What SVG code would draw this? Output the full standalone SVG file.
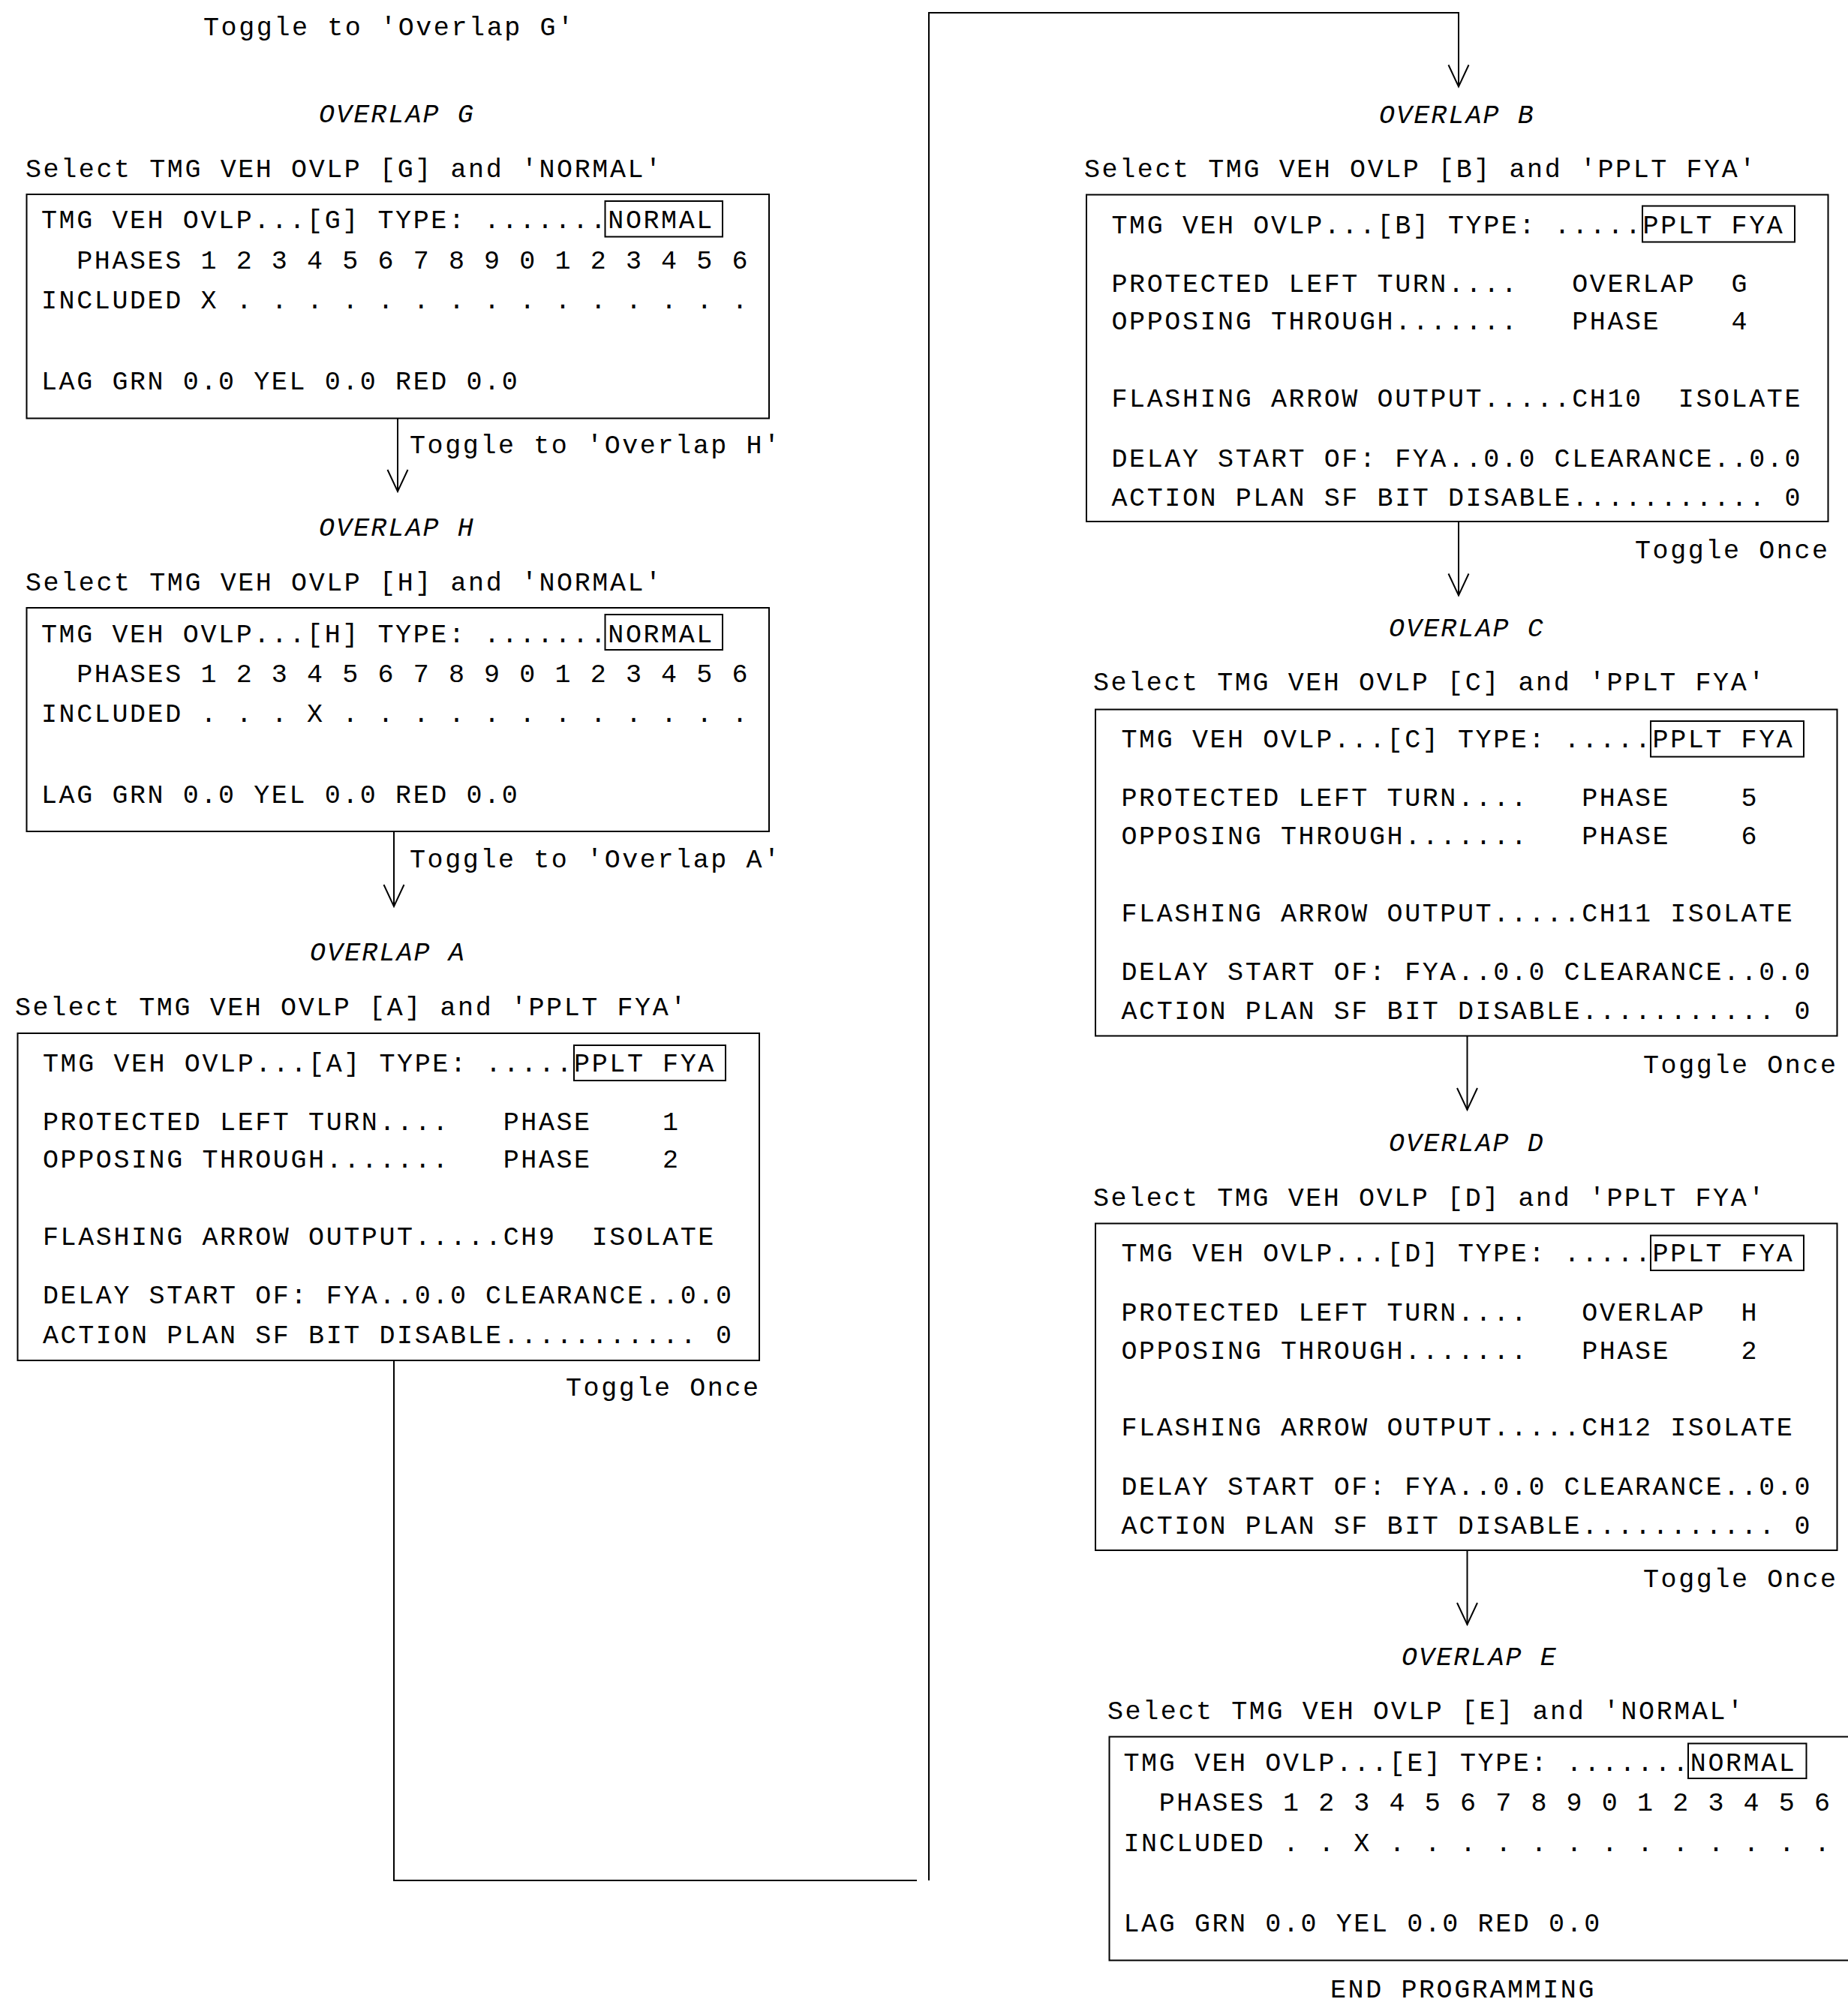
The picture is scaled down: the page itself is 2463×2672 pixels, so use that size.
<svg xmlns="http://www.w3.org/2000/svg" width="2463" height="2672" viewBox="0 0 2463 2672">
<defs>
<style>
.t{font-family:"Liberation Mono","DejaVu Sans Mono",monospace;font-size:35px;letter-spacing:2.6px;white-space:pre;fill:#000}
.h{font-family:"Liberation Mono","DejaVu Sans Mono",monospace;font-size:35px;letter-spacing:2.1px;font-style:italic;white-space:pre;fill:#000}
.box{fill:none;stroke:#000;stroke-width:2}
.tb{fill:none;stroke:#000;stroke-width:2}
.c{fill:none;stroke:#000;stroke-width:2}
</style>
<marker id="arr" markerUnits="userSpaceOnUse" viewBox="-35 -20 40 40" refX="0" refY="0" markerWidth="40" markerHeight="40" orient="auto">
<path d="M-29,-13.5 L0,0 L-29,13.5" fill="none" stroke="#000" stroke-width="2"/>
</marker>
</defs>
<rect width="2463" height="2672" fill="#fff"/>

<text id="start-label" class="t" x="271" y="47">Toggle to 'Overlap G'</text>

<g id="node-G">
<text class="h" x="425" y="163">OVERLAP G</text>
<text class="t" x="34" y="236">Select TMG VEH OVLP [G] and 'NORMAL'</text>
<rect class="box" x="35.5" y="259" width="989.5" height="298.5"/>
<rect class="tb" x="806.5" y="268" width="156.5" height="47.5"/>
<text class="t" x="55" y="304">TMG VEH OVLP...[G] TYPE: .......NORMAL</text>
<text class="t" x="55" y="358">  PHASES 1 2 3 4 5 6 7 8 9 0 1 2 3 4 5 6</text>
<text class="t" x="55" y="411">INCLUDED X . . . . . . . . . . . . . . .</text>
<text class="t" x="55" y="519">LAG GRN 0.0 YEL 0.0 RED 0.0</text>
</g>

<g id="node-H">
<text class="h" x="425" y="714">OVERLAP H</text>
<text class="t" x="34" y="787">Select TMG VEH OVLP [H] and 'NORMAL'</text>
<rect class="box" x="35.5" y="810" width="989.5" height="298"/>
<rect class="tb" x="806.5" y="819" width="156.5" height="47"/>
<text class="t" x="55" y="856">TMG VEH OVLP...[H] TYPE: .......NORMAL</text>
<text class="t" x="55" y="909">  PHASES 1 2 3 4 5 6 7 8 9 0 1 2 3 4 5 6</text>
<text class="t" x="55" y="962">INCLUDED . . . X . . . . . . . . . . . .</text>
<text class="t" x="55" y="1070">LAG GRN 0.0 YEL 0.0 RED 0.0</text>
</g>

<g id="node-A">
<text class="h" x="413" y="1280">OVERLAP A</text>
<text class="t" x="20" y="1353">Select TMG VEH OVLP [A] and 'PPLT FYA'</text>
<rect class="box" x="23.5" y="1377" width="988.5" height="436"/>
<rect class="tb" x="765" y="1393" width="202" height="47"/>
<text class="t" x="57" y="1428">TMG VEH OVLP...[A] TYPE: .....PPLT FYA</text>
<text class="t" x="57" y="1506">PROTECTED LEFT TURN....   PHASE    1</text>
<text class="t" x="57" y="1556">OPPOSING THROUGH.......   PHASE    2</text>
<text class="t" x="57" y="1659">FLASHING ARROW OUTPUT.....CH9  ISOLATE</text>
<text class="t" x="57" y="1737">DELAY START OF: FYA..0.0 CLEARANCE..0.0</text>
<text class="t" x="57" y="1790">ACTION PLAN SF BIT DISABLE........... 0</text>
<text class="t" x="754" y="1860">Toggle Once</text>
</g>

<g id="node-B">
<text class="h" x="1838" y="164">OVERLAP B</text>
<text class="t" x="1445" y="236">Select TMG VEH OVLP [B] and 'PPLT FYA'</text>
<rect class="box" x="1448" y="259.5" width="988.5" height="435.5"/>
<rect class="tb" x="2189" y="274.5" width="203" height="48"/>
<text class="t" x="1481.5" y="311">TMG VEH OVLP...[B] TYPE: .....PPLT FYA</text>
<text class="t" x="1481.5" y="389">PROTECTED LEFT TURN....   OVERLAP  G</text>
<text class="t" x="1481.5" y="439">OPPOSING THROUGH.......   PHASE    4</text>
<text class="t" x="1481.5" y="542">FLASHING ARROW OUTPUT.....CH10  ISOLATE</text>
<text class="t" x="1481.5" y="622">DELAY START OF: FYA..0.0 CLEARANCE..0.0</text>
<text class="t" x="1481.5" y="674">ACTION PLAN SF BIT DISABLE........... 0</text>
<text class="t" x="2179" y="744">Toggle Once</text>
</g>

<g id="node-C">
<text class="h" x="1851" y="848">OVERLAP C</text>
<text class="t" x="1457" y="920">Select TMG VEH OVLP [C] and 'PPLT FYA'</text>
<rect class="box" x="1460" y="945.5" width="988.5" height="435"/>
<rect class="tb" x="2200" y="961" width="204" height="47.5"/>
<text class="t" x="1494.5" y="996">TMG VEH OVLP...[C] TYPE: .....PPLT FYA</text>
<text class="t" x="1494.5" y="1074">PROTECTED LEFT TURN....   PHASE    5</text>
<text class="t" x="1494.5" y="1125">OPPOSING THROUGH.......   PHASE    6</text>
<text class="t" x="1494.5" y="1228">FLASHING ARROW OUTPUT.....CH11 ISOLATE</text>
<text class="t" x="1494.5" y="1306">DELAY START OF: FYA..0.0 CLEARANCE..0.0</text>
<text class="t" x="1494.5" y="1358">ACTION PLAN SF BIT DISABLE........... 0</text>
<text class="t" x="2190" y="1430">Toggle Once</text>
</g>

<g id="node-D">
<text class="h" x="1851" y="1534">OVERLAP D</text>
<text class="t" x="1457" y="1607">Select TMG VEH OVLP [D] and 'PPLT FYA'</text>
<rect class="box" x="1460" y="1630.5" width="988.5" height="435.5"/>
<rect class="tb" x="2200" y="1646.5" width="204" height="46.5"/>
<text class="t" x="1494.5" y="1681">TMG VEH OVLP...[D] TYPE: .....PPLT FYA</text>
<text class="t" x="1494.5" y="1760">PROTECTED LEFT TURN....   OVERLAP  H</text>
<text class="t" x="1494.5" y="1811">OPPOSING THROUGH.......   PHASE    2</text>
<text class="t" x="1494.5" y="1913">FLASHING ARROW OUTPUT.....CH12 ISOLATE</text>
<text class="t" x="1494.5" y="1992">DELAY START OF: FYA..0.0 CLEARANCE..0.0</text>
<text class="t" x="1494.5" y="2044">ACTION PLAN SF BIT DISABLE........... 0</text>
<text class="t" x="2190" y="2115">Toggle Once</text>
</g>

<g id="node-E">
<text class="h" x="1868" y="2219">OVERLAP E</text>
<text class="t" x="1476" y="2291">Select TMG VEH OVLP [E] and 'NORMAL'</text>
<rect class="box" x="1478.5" y="2314.5" width="1010" height="298"/>
<rect class="tb" x="2250" y="2323.5" width="157.5" height="46.5"/>
<text class="t" x="1497.5" y="2360">TMG VEH OVLP...[E] TYPE: .......NORMAL</text>
<text class="t" x="1497.5" y="2413">  PHASES 1 2 3 4 5 6 7 8 9 0 1 2 3 4 5 6</text>
<text class="t" x="1497.5" y="2467">INCLUDED . . X . . . . . . . . . . . . .</text>
<text class="t" x="1497.5" y="2574">LAG GRN 0.0 YEL 0.0 RED 0.0</text>
<text class="t" x="1773" y="2662">END PROGRAMMING</text>
</g>

<g id="connectors">
<path class="c" d="M530,557.5 V655" marker-end="url(#arr)"/>
<text class="t" x="546" y="604">Toggle to 'Overlap H'</text>
<path class="c" d="M525,1108 V1208" marker-end="url(#arr)"/>
<text class="t" x="546" y="1156">Toggle to 'Overlap A'</text>
<path class="c" d="M525,1813 V2506 H1222"/>
<path class="c" d="M1238,2506 V17 H1944 V115.5" marker-end="url(#arr)"/>
<path class="c" d="M1944,695 V793.5" marker-end="url(#arr)"/>
<path class="c" d="M1955.5,1380.5 V1479" marker-end="url(#arr)"/>
<path class="c" d="M1955.5,2066 V2165" marker-end="url(#arr)"/>
</g>
</svg>
